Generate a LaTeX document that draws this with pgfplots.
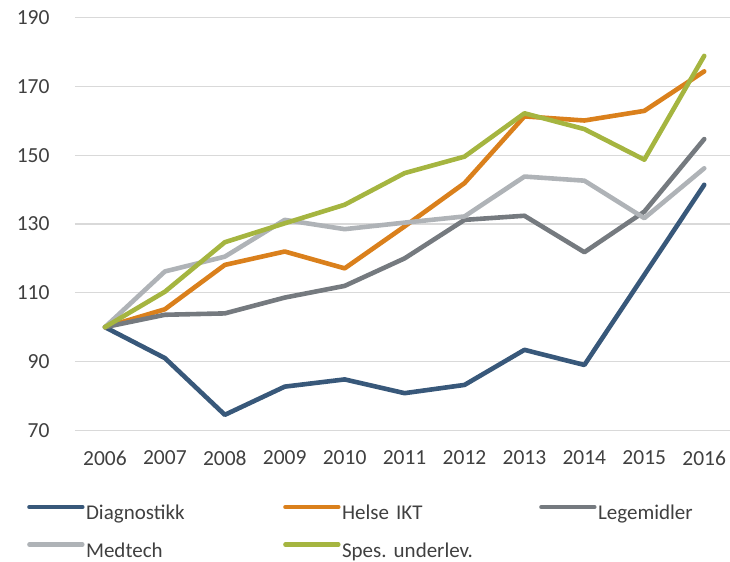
\documentclass[border=0pt]{standalone}
\usepackage{fontspec}
\setmainfont{Carlito}
\usepackage{pgfplots}
\pgfplotsset{compat=1.18}
\definecolor{cDiag}{HTML}{38587A}
\definecolor{cHelse}{HTML}{DA801C}
\definecolor{cLege}{HTML}{757A7F}
\definecolor{cMed}{HTML}{AFB3B7}
\definecolor{cSpes}{HTML}{A5B540}
\definecolor{gridgray}{HTML}{D9D9D9}
\definecolor{labelgray}{HTML}{404040}
\begin{document}
\frenchspacing
\begin{tikzpicture}
\begin{axis}[
  name=ax, at={(0,0)}, anchor=south west,
  scale only axis, width=655bp, height=412.6bp,
  xmin=2005.5, xmax=2016.43, ymin=70, ymax=190,
  xtick={2006,...,2016}, ytick={70,90,...,190},
  /pgf/number format/1000 sep=,
  /pgf/number format/assume math mode=true,
  axis line style={draw=none},
  major tick length=0pt,
  ymajorgrids, grid style={color=gridgray, line width=1.3bp},
  tick label style={font=\fontsize{21.5bp}{25bp}\selectfont, text=labelgray},
  xticklabel style={yshift=-17bp},
  yticklabel style={xshift=-22bp},
  clip=false,
  every axis plot/.append style={line width=4.6bp, line join=round, line cap=round},
  legend columns=3,
  legend image code/.code={\draw[line width=4.4bp, line cap=round] (0bp,6bp) -- (53bp,6bp);},
  legend style={draw=none, fill=none, inner sep=0pt, column sep=0pt, row sep=17.5bp,
    at={(axis description cs:-0.0733,-0.1758)}, anchor=north west,
    font=\fontsize{21bp}{25bp}\selectfont, text=labelgray,
    nodes={inner xsep=1.5bp, align=left},
    /tikz/every even column/.append style={text width=195.6bp}},
]
\addplot[cDiag] coordinates {(2006,100) (2007,91) (2008,74.5) (2009,82.7) (2010,84.8) (2011,80.8) (2012,83.2) (2013,93.4) (2014,89) (2015,115.2) (2016,141.4)};
\addlegendentry{Diagnostikk}
\addplot[cHelse] coordinates {(2006,100) (2007,105.2) (2008,118.1) (2009,122) (2010,117.1) (2011,129.3) (2012,141.9) (2013,161.3) (2014,160.1) (2015,162.9) (2016,174.4)};
\addlegendentry{Helse IKT}
\addplot[cLege] coordinates {(2006,100) (2007,103.6) (2008,104) (2009,108.6) (2010,112) (2011,120) (2012,131.2) (2013,132.4) (2014,121.8) (2015,133.6) (2016,154.7)};
\addlegendentry{Legemidler}
\addplot[cMed] coordinates {(2006,100) (2007,116.2) (2008,120.5) (2009,131.2) (2010,128.5) (2011,130.4) (2012,132.2) (2013,143.8) (2014,142.6) (2015,131.7) (2016,146.2)};
\addlegendentry{Medtech}
\addplot[cSpes] coordinates {(2006,100) (2007,110.3) (2008,124.7) (2009,130.2) (2010,135.6) (2011,144.8) (2012,149.6) (2013,162.2) (2014,157.6) (2015,148.7) (2016,178.9)};
\addlegendentry{Spes. underlev.}
\end{axis}
\pgfresetboundingbox
\path (ax.south west) ++(-75bp,-131.7bp) rectangle ++(730bp,562bp);
\end{tikzpicture}
\end{document}
